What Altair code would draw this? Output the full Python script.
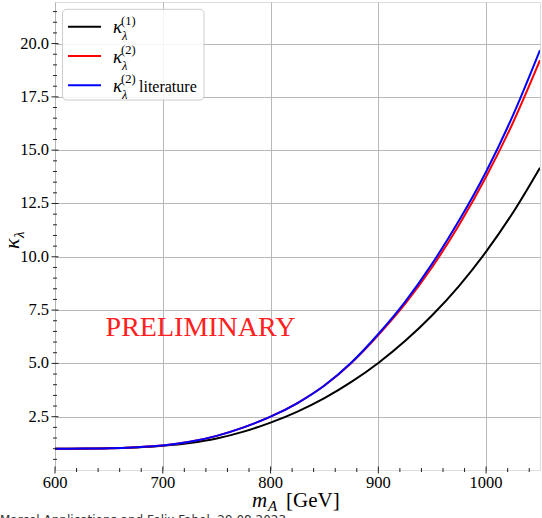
import altair as alt
import pandas as pd

# ---- data ----
m_A = [600, 625, 650, 675, 700, 725, 750, 775, 800, 825, 850, 875, 900, 925, 950, 975, 1000, 1025, 1050]
kappa_1 = [1.00, 1.002, 1.015, 1.06, 1.14, 1.27, 1.48, 1.80, 2.22, 2.74, 3.37, 4.13, 5.02, 6.06, 7.26, 8.64, 10.24, 12.08, 14.18]
kappa_2 = [1.00, 1.003, 1.02, 1.07, 1.15, 1.32, 1.60, 2.00, 2.50, 3.14, 3.96, 5.02, 6.33, 7.80, 9.52, 11.50, 13.75, 16.30, 19.22]
kappa_2_lit = [1.00, 1.003, 1.02, 1.07, 1.15, 1.32, 1.60, 2.00, 2.50, 3.14, 3.96, 5.04, 6.38, 7.90, 9.68, 11.71, 13.99, 16.64, 19.69]

x_major = [600, 700, 800, 900, 1000]
x_labels = ["600", "700", "800", "900", "1000"]
x_minor = [v for v in range(620, 1050, 20) if v % 100 != 0]
y_major = [2.5, 5.0, 7.5, 10.0, 12.5, 15.0, 17.5, 20.0]
y_labels = ["2.5", "5.0", "7.5", "10.0", "12.5", "15.0", "17.5", "20.0"]
y_minor = [round(0.5 * i, 1) for i in range(1, 44) if (0.5 * i) % 2.5 != 0]

X_DOMAIN = [600, 1050]
Y_DOMAIN = [0.0, 21.95]
W, H = 485, 468
SERIF = "Liberation Serif"

df = pd.DataFrame({
    "mA": m_A * 3,
    "kappa": kappa_1 + kappa_2 + kappa_2_lit,
    "series": ["k1"] * len(m_A) + ["k2"] * len(m_A) + ["lit"] * len(m_A),
})

xs = alt.Scale(domain=X_DOMAIN, nice=False, zero=False)
ys = alt.Scale(domain=Y_DOMAIN, nice=False, zero=False)

x_axis = alt.Axis(values=x_major, title=None, grid=True, ticks=False, domain=False, labels=False,
                  gridColor="#b0b0b0", gridWidth=0.9)
y_axis = alt.Axis(values=y_major, title=None, grid=True, ticks=False, domain=False, labels=False,
                  gridColor="#b0b0b0", gridWidth=0.9)

base = alt.Chart(df)


def line(series, color):
    return base.transform_filter(alt.datum.series == series).mark_line(
        interpolate="monotone", strokeWidth=2, color=color, clip=True
    ).encode(
        x=alt.X("mA:Q", scale=xs, axis=x_axis),
        y=alt.Y("kappa:Q", scale=ys, axis=y_axis),
    )


lines = [line("k1", "black"), line("k2", "#ff0000"), line("lit", "#0000ff")]


# inout tick marks
def yticks(vals, half):
    return alt.Chart(pd.DataFrame({"v": vals})).mark_rule(color="#222", strokeWidth=1).encode(
        y=alt.Y("v:Q", scale=ys, axis=y_axis), x=alt.value(-half), x2=alt.value(half))


def xticks(vals, half):
    return alt.Chart(pd.DataFrame({"v": vals})).mark_rule(color="#222", strokeWidth=1).encode(
        x=alt.X("v:Q", scale=xs, axis=x_axis), y=alt.value(H - half), y2=alt.value(H + half))


ticks = [yticks(y_major, 3.5), yticks(y_minor, 2), xticks(x_major, 3.5), xticks(x_minor, 2)]

# tick labels (serif) placed through the scales
ylab = alt.Chart(pd.DataFrame({"v": y_major, "t": y_labels})).mark_text(
    font=SERIF, fontSize=16.5, color="black", align="right", baseline="middle"
).encode(y=alt.Y("v:Q", scale=ys, axis=y_axis), x=alt.value(-6), text="t:N")
xlab = alt.Chart(pd.DataFrame({"v": x_major, "t": x_labels})).mark_text(
    font=SERIF, fontSize=16.5, color="black", align="center", baseline="top"
).encode(x=alt.X("v:Q", scale=xs, axis=x_axis), y=alt.value(H + 5), text="t:N")

one = pd.DataFrame({"a": [0]})


def txt(s, x, y, size, color="black", font=SERIF, style="normal", align="left", baseline="alphabetic", angle=0):
    kw = dict(fontSize=size, color=color, font=font, fontStyle=style, align=align, baseline=baseline)
    if angle:
        kw["angle"] = angle
    return alt.Chart(one).mark_text(**kw).encode(x=alt.value(x), y=alt.value(y), text=alt.value(s))


# PRELIMINARY annotation (data coordinates)
prelim = alt.Chart(pd.DataFrame({"mA": [735], "kappa": [6.66], "t": ["PRELIMINARY"]})).mark_text(
    font=SERIF, fontSize=28, color="#ff2020", align="center", baseline="middle"
).encode(x=alt.X("mA:Q", scale=xs, axis=x_axis), y=alt.Y("kappa:Q", scale=ys, axis=y_axis), text="t:N")

# legend
legend_box = alt.Chart(one).mark_rect(fill="white", fillOpacity=0.85, stroke="#cccccc", strokeWidth=1,
                                      cornerRadius=4).encode(
    x=alt.value(7.5), x2=alt.value(149), y=alt.value(7.3), y2=alt.value(98))
legend_items = []
labels = [("(1)", "black", ""), ("(2)", "#ff0000", ""), ("(2)", "#0000ff", "literature")]
for i, (sup, col, extra) in enumerate(labels):
    ly = 24.7 + 29.3 * i
    legend_items.append(alt.Chart(one).mark_rule(color=col, strokeWidth=2).encode(
        x=alt.value(13), x2=alt.value(46), y=alt.value(ly)))
    legend_items.append(txt("κ", 58, ly + 6.5, 19, style="italic"))
    legend_items.append(txt("λ", 67, ly + 13.5, 12.5, style="italic"))
    legend_items.append(txt(sup, 66, ly - 2, 12.5))
    if extra:
        legend_items.append(txt(extra, 84, ly + 6.5, 16))

# axis titles
titles = [
    txt("m", 197, 505, 21, style="italic"),
    txt("A", 213, 509, 15, style="italic"),
    txt("[GeV]", 231, 505, 21),
    txt("κ", -36, 247, 22, style="italic", angle=270),
    txt("λ", -31, 236, 15, style="italic", angle=270),
    txt("Marcel Applications and Felix Fabel, 29.08.2023", -55, 513, 12, color="#333333",
        font="DejaVu Sans", baseline="top"),
]

chart = alt.layer(*lines, *ticks, ylab, xlab, prelim, legend_box, *legend_items, *titles).properties(
    width=W, height=H,
    autosize=alt.AutoSizeParams(type="none"),
    padding={"left": 55, "top": 2, "right": 2, "bottom": 48},
).configure_view(stroke="#222222", strokeWidth=1.2).configure(background="white")

chart.save("out.html", embed_options={"renderer": "svg", "actions": False})
